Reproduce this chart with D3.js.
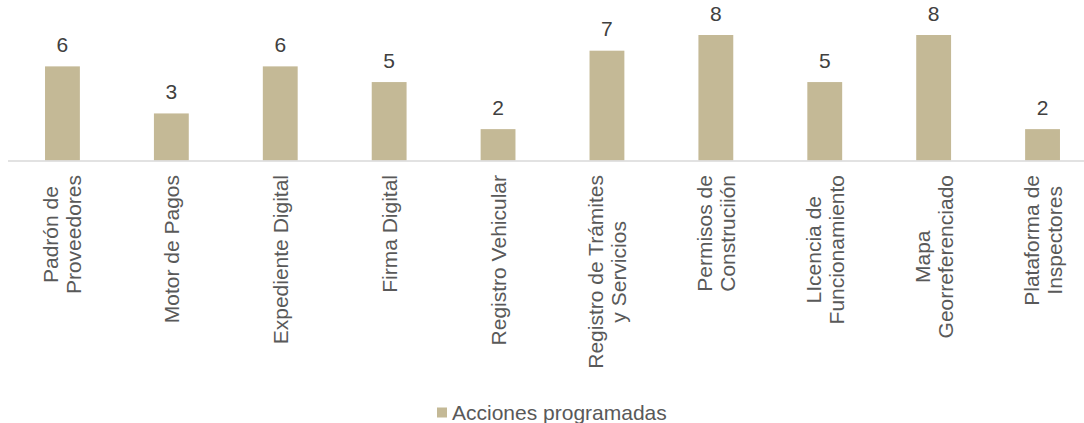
<!DOCTYPE html>
<html>
<head>
<meta charset="utf-8">
<script src="https://cdn.jsdelivr.net/npm/d3@7"></script>
<style>
  body { margin: 0; background: #fff; }
  svg { display: block; font-family: "Liberation Sans", Arial, sans-serif; }
</style>
</head>
<body>
<div id="chart"></div>
<script>
// acciones programadas por proyecto
var categories = [
    ["Padrón de", "Proveedores"],
    ["Motor de Pagos"],
    ["Expediente Digital"],
    ["Firma Digital"],
    ["Registro Vehicular"],
    ["Registro de Trámites", "y Servicios"],
    ["Permisos de", "Construciión"],
    ["LIcencia de", "Funcionamiento"],
    ["Mapa", "Georreferenciado"],
    ["Plataforma de", "Inspectores"]
];
var values = [6, 3, 6, 5, 2, 7, 8, 5, 8, 2];
var seriesName = "Acciones programadas";

(function () {
    "use strict";
    var w = 1084, h = 423, base = 160.5, fontSize = 21;
    var color = "#c4b996";

    var svg = d3.select('#chart').append('svg').attr('width', w).attr('height', h);

    var x = d3.scaleBand().domain(d3.range(values.length)).range([8, 1097])
        .paddingInner(0.68).paddingOuter(0.34);
    var y = d3.scaleLinear().domain([0, 8]).range([base, 35]);

    // bars
    svg.selectAll('rect.bar').data(values).enter().append('rect')
        .attr('class', 'bar')
        .attr('x', function (d, i) { return x(i); })
        .attr('y', function (d) { return y(d); })
        .attr('width', x.bandwidth())
        .attr('height', function (d) { return base - y(d); })
        .attr('fill', color);

    // baseline
    svg.append('line')
        .attr('x1', 8).attr('x2', w)
        .attr('y1', base + 0.5).attr('y2', base + 0.5)
        .attr('stroke', '#d9d9d9').attr('stroke-width', 1.3);

    // value labels
    svg.selectAll('text.val').data(values).enter().append('text')
        .attr('class', 'val')
        .text(function (d) { return d; })
        .attr('x', function (d, i) { return x(i) + x.bandwidth() / 2; })
        .attr('y', function (d) { return y(d) - 14.5; })
        .attr('text-anchor', 'middle')
        .attr('font-size', fontSize)
        .attr('fill', '#404040');

    // category labels, rotated
    var lineH = 23, top = 175;
    categories.forEach(function (lines, i) {
        var cx = x(i) + x.bandwidth() / 2;
        var g = svg.append('g');
        var texts = lines.map(function (s, k) {
            return g.append('text').text(s)
                .attr('font-size', fontSize)
                .attr('fill', '#595959')
                .attr('text-anchor', 'middle')
                .attr('dominant-baseline', 'central')
                .attr('y', (k - (lines.length - 1) / 2) * lineH);
        });
        var maxLen = d3.max(texts, function (t) { return t.node().getComputedTextLength(); });
        g.attr('transform', 'translate(' + cx + ',' + (top + maxLen / 2) + ') rotate(-90)');
    });

    // legend
    var leg = svg.append('g').attr('transform', 'translate(437,407.5)');
    leg.append('rect').attr('width', 10).attr('height', 10).attr('fill', color);
    leg.append('text').text(seriesName)
        .attr('x', 15).attr('y', 5)
        .attr('dominant-baseline', 'central')
        .attr('font-size', fontSize)
        .attr('fill', '#595959');
}());
</script>
</body>
</html>
